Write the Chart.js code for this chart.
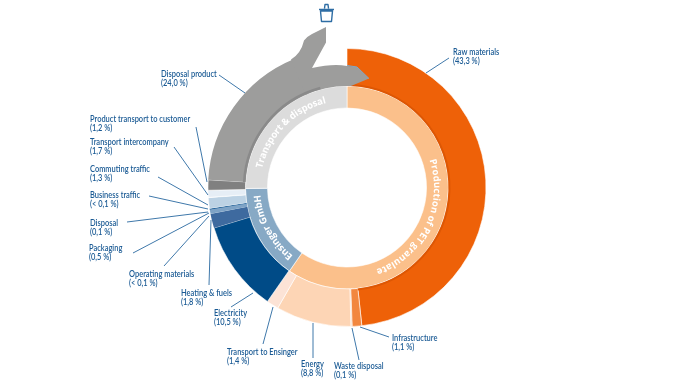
<!DOCTYPE html>
<html>
<head>
<meta charset="utf-8">
<style>
  html, body { margin: 0; background: #fff; }
  canvas { display: block; }
</style>
<script src="https://cdn.jsdelivr.net/npm/chart.js@4"></script>
</head>
<body>
<canvas id="ring" width="693" height="390"></canvas>
<script>
// Outer ring, clockwise from the top
const outerNames = ['Raw materials', 'Infrastructure', 'Waste disposal', 'Energy', 'Transport to Ensinger',
    'Electricity', 'Heating & fuels', 'Operating materials', 'Packaging', 'Disposal',
    'Commuting traffic', 'Business traffic', 'Transport intercompany', 'Product transport to customer',
    'Disposal product', 'Arrow gap'];
const outerPrinted = ['(43,3 %)', '(1,1 %)', '(0,1 %)', '(8,8 %)', '(1,4 %)',
    '(10,5 %)', '(1,8 %)', '(< 0,1 %)', '(0,5 %)', '(0,1 %)',
    '(1,3 %)', '(< 0,1 %)', '(1,7 %)', '(1,2 %)', '(24,0 %)', ''];
// arc sizes as they are drawn in the picture (the printed numbers are not to scale)
const outerDrawn = [48.3, 1.1, 0.15, 8.75, 1.4, 10.6, 1.65, 0.03, 0.45, 0.15, 1.25, 0.05, 0.8, 1.2, 17.9, 6.22];
const outerColors = ['#ee6108', '#f2873f', '#fbe3d0', '#fdd5b5', '#fce3d6', '#004b87', '#3e6a9f', '#5d88b4',
    '#7ea3c6', '#0d5390', '#bcd2e4', '#ffffff', '#e6eef6', '#808080', '#9d9d9c', 'rgba(0,0,0,0)'];
const outerBorders = [0.6, 0.6, 0, 0.6, 0.6, 0.6, 0, 0, 0, 0, 0.4, 0, 0.4, 0.6, 0, 0];

// Inner ring
const innerNames = ['Production of PET granulate', 'Ensinger GmbH', 'Transport & disposal'];
const innerDrawn = [59.6, 15.25, 25.15];
const innerColors = ['#fbc08b', '#87a9c5', '#dcdcdc'];

const BLUE = '#1a5a94';
const LABEL_FONT = '600 8.6px Lato, "Noto Sans", sans-serif';

// label left edge, first line centre, and the leader line ends, per outer slice
const callouts = {
    'Raw materials': [453, 52, 449, 58, 426, 73],
    'Infrastructure': [392, 338, 389, 337, 360, 327],
    'Waste disposal': [334, 366, 359, 360, 352, 328],
    'Energy': [301, 364, 313, 358, 313, 323],
    'Transport to Ensinger': [227, 352, 263, 344, 273, 307],
    'Electricity': [214, 313, 231, 307, 253, 293],
    'Heating & fuels': [181, 293, 209, 285, 211, 220],
    'Operating materials': [129, 274, 164, 266, 209, 216],
    'Packaging': [89, 248, 133, 253, 209, 213],
    'Disposal': [90, 223, 127, 222, 208, 212],
    'Commuting traffic': [90, 169, 158, 177, 208, 205],
    'Business traffic': [90, 195, 149, 196, 208, 209],
    'Transport intercompany': [90, 142, 174, 147, 208, 195],
    'Product transport to customer': [90, 119, 196, 127, 207, 182],
    'Disposal product': [161, 74, 219, 75, 245, 93]
};

function deg(a) {
    return (a - 90) * Math.PI / 180;
}

function drawArrow(ctx, cx, cy) {
    // tail of the disposal slice: splits towards the bin and back into raw materials
    ctx.fillStyle = '#9d9d9c';
    ctx.beginPath();
    ctx.moveTo(cx - 56, cy - 128);
    ctx.quadraticCurveTo(cx - 46, cy - 134, cx - 43, cy - 147);
    ctx.quadraticCurveTo(cx - 40, cy - 151, cx - 35, cy - 153.5);
    ctx.lineTo(cx - 21, cy - 160.5);
    ctx.lineTo(cx - 21, cy - 145);
    ctx.lineTo(cx - 35, cy - 119.5);
    ctx.quadraticCurveTo(cx - 14, cy - 124, cx, cy - 121.5);
    ctx.lineTo(cx + 10, cy - 120.5);
    ctx.lineTo(cx + 22, cy - 109);
    ctx.lineTo(cx + 4, cy - 101.5);
    ctx.arc(cx, cy, 101.5, deg(2), deg(336), true);
    ctx.closePath();
    ctx.fill();

    ctx.strokeStyle = '#7fa8c8';
    ctx.lineWidth = 1;
    ctx.beginPath();
    ctx.moveTo(cx, cy - 122);
    ctx.lineTo(cx + 10, cy - 120.5);
    ctx.lineTo(cx + 22, cy - 109);
    ctx.stroke();
}

function drawBin(ctx) {
    ctx.strokeStyle = '#2e6da4';
    ctx.lineWidth = 1.4;
    ctx.lineJoin = 'round';
    ctx.beginPath();
    ctx.moveTo(320.5, 11);
    ctx.lineTo(321.5, 21.5);
    ctx.lineTo(331.5, 21.5);
    ctx.lineTo(332.5, 11);
    ctx.closePath();
    ctx.moveTo(319, 9.5);
    ctx.lineTo(334, 9.5);
    ctx.moveTo(324.5, 8.5);
    ctx.lineTo(325, 4.5);
    ctx.lineTo(328, 4.5);
    ctx.lineTo(328.5, 8.5);
    ctx.stroke();
}

// text along the ring, stretched to fill the given span in degrees
function curvedText(ctx, cx, cy, text, midAngle, span, radius) {
    ctx.font = 'bold 9.5px "Open Sans", sans-serif';
    ctx.fillStyle = '#ffffff';
    ctx.textAlign = 'center';
    ctx.textBaseline = 'alphabetic';
    const chars = [...text];
    const raw = chars.map(c => ctx.measureText(c).width);
    const gap = (span * Math.PI / 180 * radius - raw.reduce((a, b) => a + b, 0)) / chars.length;
    let a = midAngle - span / 2;
    chars.forEach((c, i) => {
        const step = (raw[i] + gap) / radius * 180 / Math.PI;
        const mid = a + step / 2;
        ctx.save();
        ctx.translate(cx + radius * Math.cos(deg(mid)), cy + radius * Math.sin(deg(mid)));
        ctx.rotate(deg(mid) + Math.PI / 2);
        ctx.fillText(c, 0, 0);
        ctx.restore();
        a += step;
    });
}

function condensed(ctx, text, x, y) {
    ctx.fillText(text, x, y, ctx.measureText(text).width * 0.87);
}

const annotations = {
    id: 'annotations',
    afterDatasetsDraw(chart) {
        const ctx = chart.ctx;
        const first = chart.getDatasetMeta(0).data[0];
        const cx = first.x, cy = first.y;

        ctx.save();
        // darker inner edge of the outer ring
        ctx.lineWidth = 2;
        ctx.strokeStyle = '#dd5704';
        ctx.beginPath();
        ctx.arc(cx, cy, 102.5, deg(2), deg(174));
        ctx.stroke();
        drawArrow(ctx, cx, cy);
        ctx.strokeStyle = '#8a8a8a';
        ctx.lineWidth = 2.5;
        ctx.beginPath();
        ctx.arc(cx, cy, 103, deg(273), deg(345));
        ctx.stroke();
        drawBin(ctx);

        curvedText(ctx, cx, cy, innerNames[0], 116, 89, 87);
        curvedText(ctx, cx, cy, innerNames[1], 241.8, 46.8, 87);
        curvedText(ctx, cx, cy, innerNames[2], 314.4, 63.6, 87);

        // leader lines and labels
        ctx.strokeStyle = '#3f78aa';
        ctx.lineWidth = 1;
        ctx.fillStyle = BLUE;
        ctx.font = LABEL_FONT;
        ctx.textAlign = 'left';
        ctx.textBaseline = 'middle';
        outerNames.forEach((name, i) => {
            const c = callouts[name];
            if (!c) return;
            ctx.beginPath();
            ctx.moveTo(c[2], c[3]);
            ctx.lineTo(c[4], c[5]);
            ctx.stroke();
            condensed(ctx, name, c[0], c[1]);
            condensed(ctx, outerPrinted[i], c[0], c[1] + 9.5);
        });
        ctx.restore();
    }
};

new Chart(document.getElementById('ring').getContext('2d'), {
    type: 'doughnut',
    data: {
        labels: outerNames,
        datasets: [{
            data: outerDrawn,
            backgroundColor: outerColors,
            borderColor: '#ffffff',
            borderWidth: outerBorders,
            weight: 37.5
        }, {
            data: innerDrawn,
            backgroundColor: innerColors,
            borderColor: '#ffffff',
            borderWidth: 0.6,
            weight: 22
        }]
    },
    options: {
        responsive: false,
        animation: false,
        radius: 139,
        cutout: '57.2%',
        layout: { padding: { left: 1, bottom: 15 } },
        plugins: { legend: { display: false }, tooltip: { enabled: false } }
    },
    plugins: [annotations]
});
</script>
</body>
</html>
